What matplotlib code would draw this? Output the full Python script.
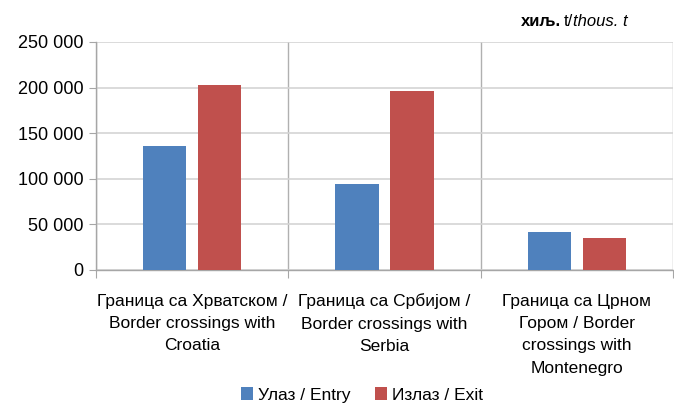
import matplotlib
matplotlib.use("Agg")
import matplotlib.pyplot as plt
import numpy as np
from matplotlib.ticker import FuncFormatter, FixedLocator

categories = ["Граница са Хрватском /\nBorder crossings with\nCroatia",
              "Граница са Србијом /\nBorder crossings with\nSerbia",
              "Граница са Црном\nГором / Border\ncrossings with\nMontenegro"]
entry = [136000, 94500, 42000]
exit_ = [203000, 196000, 35000]
series_names = ["Улаз / Entry", "Излаз / Exit"]
yticks = [0, 50000, 100000, 150000, 200000, 250000]

FONT = ['Liberation Sans Narrow', 'Liberation Sans', 'DejaVu Sans']
plt.rcParams['font.family'] = FONT

fig = plt.figure(figsize=(6.74, 4.08), dpi=100)
ax = fig.add_axes([96/674, 1 - 270/408, 577/674, 228/408])

x = np.arange(len(categories))
w = 0.224
off = 0.143
ax.bar(x - off, entry, w, color="#4F81BD", label=series_names[0], zorder=3)
ax.bar(x + off, exit_, w, color="#C0504D", label=series_names[1], zorder=3)

ax.set_xlim(-0.5, len(categories) - 0.5)
ax.set_ylim(0, 250000)
ax.set_yticks(yticks)
ax.yaxis.set_major_formatter(FuncFormatter(lambda v, p: f"{int(v):,}".replace(",", " ")))
ax.tick_params(axis='y', labelsize=13, length=5, color="#a6a6a6", pad=4, labelcolor="#000000")
ax.yaxis.grid(True, color="#d4d4d4", linewidth=1.2, zorder=0)

# category separators
ax.xaxis.set_major_locator(FixedLocator(np.arange(-0.5, len(categories), 1.0)))
ax.xaxis.set_minor_locator(FixedLocator(x))
ax.tick_params(axis='x', which='major', length=6, color="#a6a6a6", labelbottom=False)
ax.tick_params(axis='x', which='minor', length=0, labelsize=12.5, pad=17)
ax.set_xticks(x, minor=True)
ax.set_xticklabels(categories, minor=True, linespacing=1.62)
ax.xaxis.grid(True, which='major', color="#b0b0b0", linewidth=1.0, zorder=0)

for s in ["top", "right"]:
    ax.spines[s].set_visible(False)
for s in ["left", "bottom"]:
    ax.spines[s].set_color("#a6a6a6")
    ax.spines[s].set_linewidth(1.0)

leg = fig.legend(loc="center", bbox_to_anchor=(362/674, 1 - 395/408), ncol=2, frameon=False,
                 fontsize=12.5, handlelength=0.7, handleheight=0.7, handletextpad=0.3,
                 columnspacing=1.4)

# unit label
fig.canvas.draw()
r = fig.canvas.get_renderer()
y_u = 1 - 21/408
t1 = fig.text(521/674, y_u, "хиљ.", fontsize=12, fontweight="bold", va="center")
bb = t1.get_window_extent(r)
t2 = fig.text((bb.x1 + 3)/674, y_u, "t/", fontsize=12, va="center")
bb = t2.get_window_extent(r)
t3 = fig.text(bb.x1/674, y_u, "thous. t", fontsize=12, style="italic", va="center")

fig.savefig("out.png", dpi=100)
